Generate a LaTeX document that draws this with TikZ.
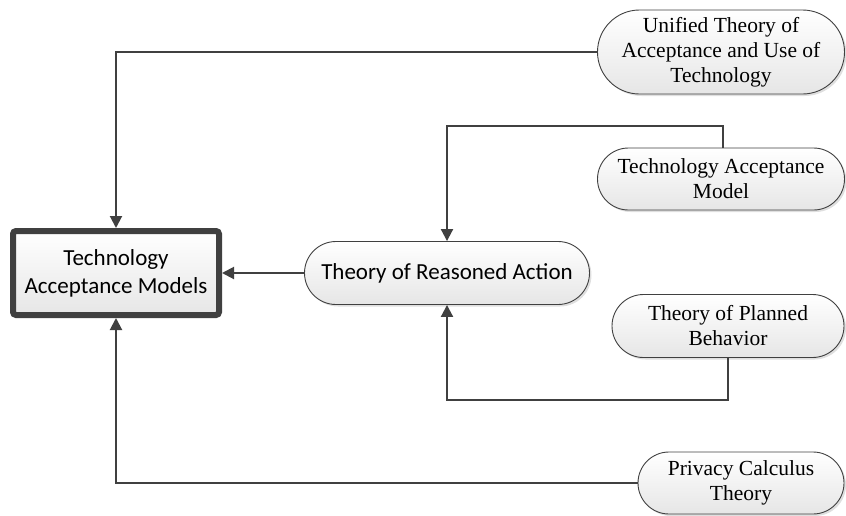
\documentclass[tikz,border=0pt]{standalone}
\usepackage{fontspec}
\setmainfont{Liberation Serif}
\newfontfamily\calib{Carlito}
\usetikzlibrary{shapes.misc,shadows,arrows.meta}
\definecolor{edge}{HTML}{404040}
\definecolor{fillbot}{HTML}{E6E6E6}
\tikzset{
  pill/.style={rounded rectangle, draw=edge, line width=0.9pt,
    top color=white, bottom color=fillbot, align=center,
    inner sep=0pt, font=\fontsize{21.5}{25}\selectfont,
    drop shadow={shadow xshift=2pt, shadow yshift=-2pt, opacity=0.25, fill=gray}},
  mainbox/.style={rectangle, rounded corners=3pt, draw=edge, line width=6pt,
    top color=white, bottom color=fillbot, align=center, inner sep=0pt,
    font=\calib\fontsize{23}{28}\selectfont,
    drop shadow={shadow xshift=2pt, shadow yshift=-2pt, opacity=0.25, fill=gray}},
  link/.style={draw=edge, line width=2pt},
  arrow/.style={link, -{Triangle[length=12pt,width=12pt]}},
}
\begin{document}
\begin{tikzpicture}[x=1pt,y=-1pt]
\useasboundingbox (0,0) rectangle (846,515);
\node[mainbox, minimum width=206pt, minimum height=84pt] (tams) at (116,273)
  {Technology\\Acceptance Models};
\node[pill, font=\calib\fontsize{23}{28}\selectfont,
  minimum width=285pt, minimum height=63pt] (tra) at (447,273)
  {Theory of Reasoned Action};
\node[pill, minimum width=247pt, minimum height=84pt] (utaut) at (721,52)
  {Unified Theory of\\Acceptance and Use of\\Technology};
\node[pill, minimum width=247pt, minimum height=62pt] (tam) at (721,179)
  {Technology Acceptance\\Model};
\node[pill, minimum width=232pt, minimum height=63pt] (tpb) at (728,326)
  {Theory of Planned\\Behavior};
\node[pill, minimum width=206pt, minimum height=62pt] (pct) at (741,483)
  {Privacy Calculus\\Theory};
\coordinate (tamturn) at (723,126);
\coordinate (tpbturn) at (728,400);
% connectors
\draw[arrow] (utaut.west) -| (tams.north);
\draw[arrow] (pct.west) -| (tams.south);
\draw[arrow] (tra.west) -- (tams.east);
\draw[arrow] (tam.north -| tamturn) -- (tamturn) -| (tra.north);
\draw[arrow] (tpb.south) -- (tpbturn) -| (tra.south);
\end{tikzpicture}
\end{document}
